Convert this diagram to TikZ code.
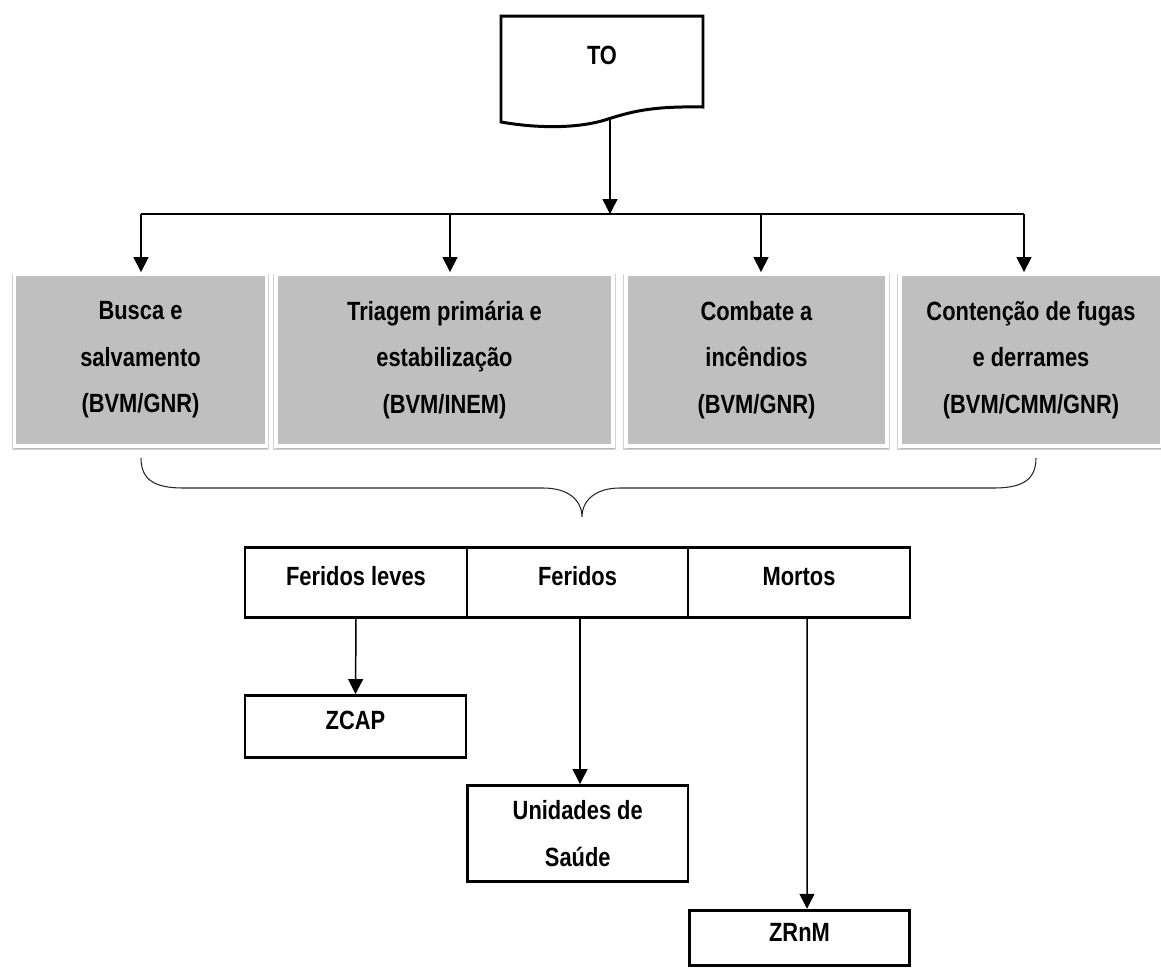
\documentclass[tikz,border=0pt]{standalone}
\usepackage{fontspec}
\setmainfont{Liberation Sans}[FakeStretch=0.83]
\usetikzlibrary{arrows.meta,shadows}
\definecolor{boxgray}{RGB}{191,191,191}
\newcommand{\pxu}{0.02cm}
\begin{document}
\begin{tikzpicture}[x=0.02cm,y=-0.02cm,
  font=\fontsize{15}{26.5}\selectfont\bfseries,
  conn/.style={line width=0.85pt,-{Triangle[length=8.5pt,width=8.5pt]}},
  plainline/.style={line width=0.85pt},
  graybox/.style={draw=white,line width=2.2pt,fill=boxgray,align=center,inner sep=0pt,
    general shadow={shadow xshift=0pt,shadow yshift=-1pt,shadow scale=1.02,opacity=0.18,fill=black},
    drop shadow={shadow xshift=0.5pt,shadow yshift=-1.6pt,opacity=0.3}},
  lowbox/.style={draw=black,line width=1.7pt,fill=white,align=center,inner sep=0pt},
  upshift/.style={text height=10.7pt,text depth=7.3pt},
  bracestyle/.style={line width=0.6pt,draw=black!85},
  docstyle/.style={line width=1.7pt,draw=black,fill=white}]
\useasboundingbox (0,0) rectangle (1161,968);

% TO document
\draw[docstyle] (501,16) -- (703,16) -- (703,107)
  .. controls (650,106) and (630,112) .. (605,120)
  .. controls (575,129) and (535,128) .. (501,122) -- cycle;
\node (to) at (602,55) {TO};
\coordinate (tobot) at (610,119);
\coordinate (hub) at (610,214);
\coordinate (h1) at (141,214);
\coordinate (h2) at (450,214);
\coordinate (h3) at (761,214);
\coordinate (h4) at (1024,214);

% gray boxes
\node[graybox,minimum width=252*\pxu,minimum height=172*\pxu] (b1) at (140.5,360)
  {Busca e\\salvamento\\(BVM/GNR)};
\node[graybox,minimum width=337*\pxu,minimum height=172*\pxu] (b2) at (444.5,360)
  {Triagem primária e\\estabilização\\(BVM/INEM)};
\node[graybox,minimum width=261*\pxu,minimum height=172*\pxu] (b3) at (756.5,360)
  {Combate a\\incêndios\\(BVM/GNR)};
\node[graybox,minimum width=262*\pxu,minimum height=172*\pxu] (b4) at (1031,360)
  {Contenção de fugas\\e derrames\\(BVM/CMM/GNR)};

% connectors top
\draw[conn] (tobot) -- (hub);
\draw[plainline] (h1) -- (h4);
\draw[conn] (h1) -- (h1 |- b1.north);
\draw[conn] (h2) -- (h2 |- b2.north);
\draw[conn] (h3) -- (h3 |- b3.north);
\draw[conn] (h4) -- (h4 |- b4.north);

% brace
\coordinate (brl) at (141,458);
\coordinate (brtip) at (582,517);
\coordinate (brr) at (1036,458);
\draw[bracestyle] (brl) .. controls (141,480) and (155,488) .. (183,488) -- (543,488)
  .. controls (568,488) and (582,500) .. (brtip)
  .. controls (582,500) and (596,488) .. (620,488) -- (994,488)
  .. controls (1022,488) and (1036,480) .. (brr);

% lower boxes
\node[lowbox,upshift,minimum width=222*\pxu,minimum height=70*\pxu] (fl) at (356,582.5) {Feridos leves};
\node[lowbox,upshift,minimum width=221*\pxu,minimum height=70*\pxu] (fe) at (577.5,582.5) {Feridos};
\node[lowbox,upshift,minimum width=222*\pxu,minimum height=70*\pxu] (mo) at (799,582.5) {Mortos};
\node[lowbox,upshift,minimum width=221*\pxu,minimum height=62*\pxu] (zcap) at (355.5,726.5) {ZCAP};
\node[lowbox,minimum width=220.5*\pxu,minimum height=96*\pxu] (us) at (577.75,833.5) {Unidades de\\Saúde};
\node[lowbox,upshift,minimum width=220*\pxu,minimum height=55.5*\pxu] (zr) at (799.5,938) {ZRnM};

\draw[conn] (fl.south) -- (zcap.north);
\draw[conn] ([xshift=2.5*\pxu]fe.south) -- ([xshift=2.25*\pxu]us.north);
\draw[conn] ([xshift=8*\pxu]mo.south) -- ([xshift=7.5*\pxu]zr.north);
\end{tikzpicture}
\end{document}
